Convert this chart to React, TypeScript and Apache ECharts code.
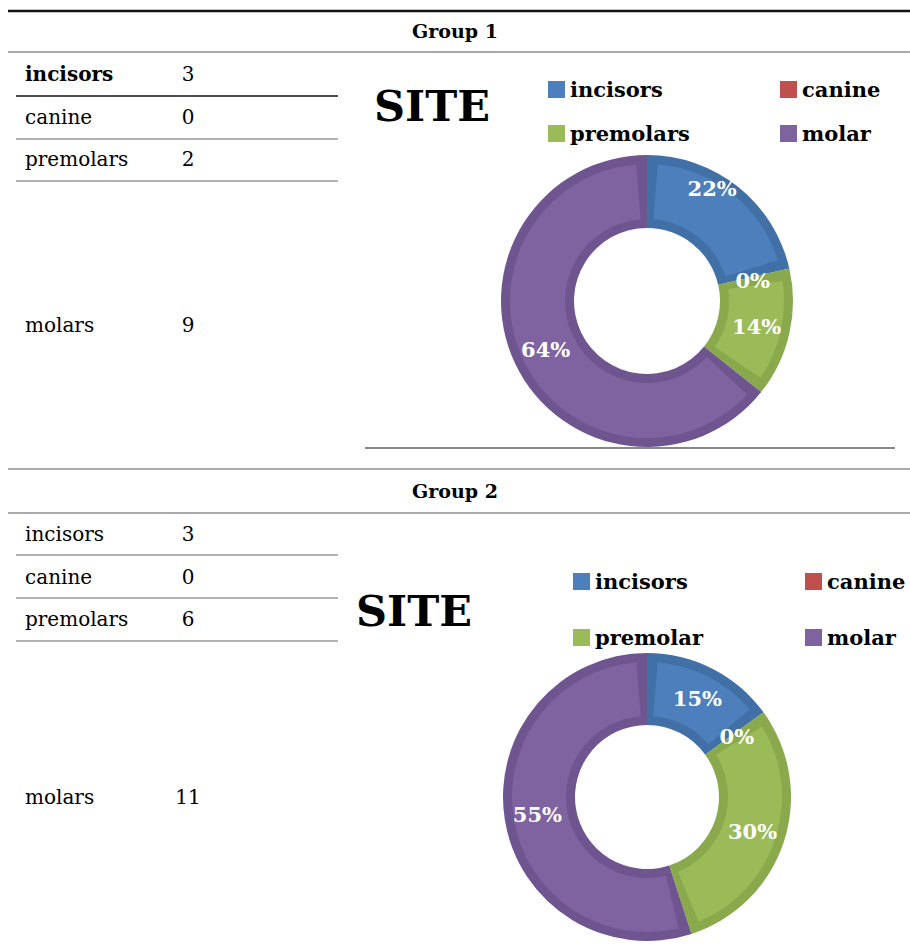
import React, { useEffect, useRef } from "react";
import * as echarts from "echarts";

// ---- data ----
const groupTitles = ["Group 1", "Group 2"];
const tableNames1 = ["incisors", "canine", "premolars", "molars"];
const counts1 = [3, 0, 2, 9];
const pieNames1 = ["incisors", "canine", "premolars", "molar"];
const pctLabels1 = [22, 0, 14, 64];

const tableNames2 = ["incisors", "canine", "premolars", "molars"];
const counts2 = [3, 0, 6, 11];
const pieNames2 = ["incisors", "canine", "premolar", "molar"];
const pctLabels2 = [15, 0, 30, 55];

const chartTitle = "SITE";

const lightColors = ["#4D7FBC", "#C0504D", "#9BBB59", "#7F63A1"];
const darkColors = ["#4170A7", "#A94441", "#89A94C", "#6F5590"];

const FONT = "'DejaVu Serif', serif";

function pieSeries(
  names: string[],
  values: number[],
  pcts: number[],
  center: [number, number],
  r: number,
  R: number,
  labelShift: Record<number, { dx: number; dy: number }>
) {
  const base = {
    type: "pie",
    center,
    startAngle: 90,
    clockwise: true,
    silent: true,
    labelLine: { show: false },
    emphasis: { disabled: true },
  };
  return [
    {
      ...base,
      z: 3,
      radius: [r + 9, R - 9],
      padAngle: 9,
      label: { show: false },
      data: names.map((n, i) => ({
        name: n,
        value: values[i] === 0 ? "-" : values[i],
        itemStyle: { color: lightColors[i] },
      })),
    },
    {
      ...base,
      z: 2,
      radius: [r, R],
      label: { show: false },
      data: names.map((n, i) => ({
        name: n,
        value: values[i],
        itemStyle: { color: darkColors[i] },
      })),
    },
    {
      ...base,
      z: 4,
      radius: [r, R],
      label: {
        show: true,
        position: "inside",
        formatter: (p: any) => pcts[p.dataIndex] + "%",
        color: "#ffffff",
        fontFamily: FONT,
        fontWeight: "bold",
        fontSize: 21,
      },
      labelLayout: (p: any) => labelShift[p.dataIndex] || {},
      data: names.map((n, i) => ({
        name: n,
        value: values[i],
        itemStyle: { color: "rgba(0,0,0,0)" },
      })),
    },
  ];
}

function legendItem(name: string, left: number, cy: number) {
  return {
    data: [name],
    left,
    top: cy - 11,
    padding: 0,
    icon: "rect",
    itemWidth: 17,
    itemHeight: 17,
    selectedMode: false,
    textStyle: {
      fontFamily: FONT,
      fontWeight: "bold",
      fontSize: 21,
      color: "#000",
    },
  };
}

export default function App() {
  const ref = useRef<HTMLDivElement>(null);
  useEffect(() => {
    if (!ref.current) return;
    const chart = echarts.init(ref.current, undefined, { renderer: "svg" });

    const graphics: any[] = [];
    const hline = (y: number, x1: number, x2: number, w: number, c: string) =>
      graphics.push({
        type: "line",
        silent: true,
        shape: { x1, y1: y, x2, y2: y },
        style: { stroke: c, lineWidth: w },
      });
    const text = (
      t: string,
      x: number,
      y: number,
      size: number,
      bold: boolean,
      align: string = "left"
    ) =>
      graphics.push({
        type: "text",
        silent: true,
        x,
        y,
        style: {
          text: t,
          font: `${bold ? "bold " : ""}${size}px ${FONT}`,
          fill: "#000",
          textAlign: align,
          textVerticalAlign: "middle",
        },
      });

    // frame lines
    hline(11, 8, 910, 2.5, "#111");
    hline(52, 8, 910, 1.2, "#555");
    hline(469, 8, 910, 1.2, "#555");
    hline(513, 8, 910, 1.2, "#555");
    hline(448, 365, 895, 1.2, "#111");

    text(groupTitles[0], 455, 31, 19, true, "center");
    text(groupTitles[1], 455, 491, 19, true, "center");

    // table 1
    const rows1 = [74, 117, 159, 325];
    tableNames1.forEach((n, i) => {
      text(n, 25, rows1[i], 20, i === 0);
      text(String(counts1[i]), 188, rows1[i], 20, false, "center");
    });
    hline(96, 16, 338, 1.4, "#111");
    hline(139, 16, 338, 1.2, "#666");
    hline(181, 16, 338, 1.2, "#666");

    // table 2
    const rows2 = [534, 577, 619, 797];
    tableNames2.forEach((n, i) => {
      text(n, 25, rows2[i], 20, false);
      text(String(counts2[i]), 188, rows2[i], 20, false, "center");
    });
    hline(555, 16, 338, 1.2, "#666");
    hline(598, 16, 338, 1.2, "#666");
    hline(641, 16, 338, 1.2, "#666");

    // chart titles
    text(chartTitle, 374, 106, 43, true);
    text(chartTitle, 356, 611, 43, true);

    const legends = [
      legendItem(pieNames1[0], 548, 90),
      legendItem(pieNames1[1], 780, 90),
      legendItem(pieNames1[2], 548, 134),
      legendItem(pieNames1[3], 780, 134),
      legendItem(pieNames2[0], 573, 582),
      legendItem(pieNames2[1], 805, 582),
      legendItem(pieNames2[2], 573, 638),
      legendItem(pieNames2[3], 805, 638),
    ];

    const series = [
      ...pieSeries(pieNames1, counts1, pctLabels1, [647, 301], 73, 146, {
        0: { dx: -5, dy: -25 },
        1: { dx: -4, dy: 5 },
      }),
      ...pieSeries(pieNames2, counts2, pctLabels2, [647, 797], 72, 144, {
        1: { dx: 0, dy: 5 },
      }),
    ];

    chart.setOption({
      animation: false,
      legend: legends,
      graphic: graphics,
      series,
    });
    return () => chart.dispose();
  }, []);

  return (
    <div
      ref={ref}
      style={{
        position: "absolute",
        left: 0,
        top: 0,
        width: 910,
        height: 947,
        background: "#fff",
      }}
    />
  );
}
